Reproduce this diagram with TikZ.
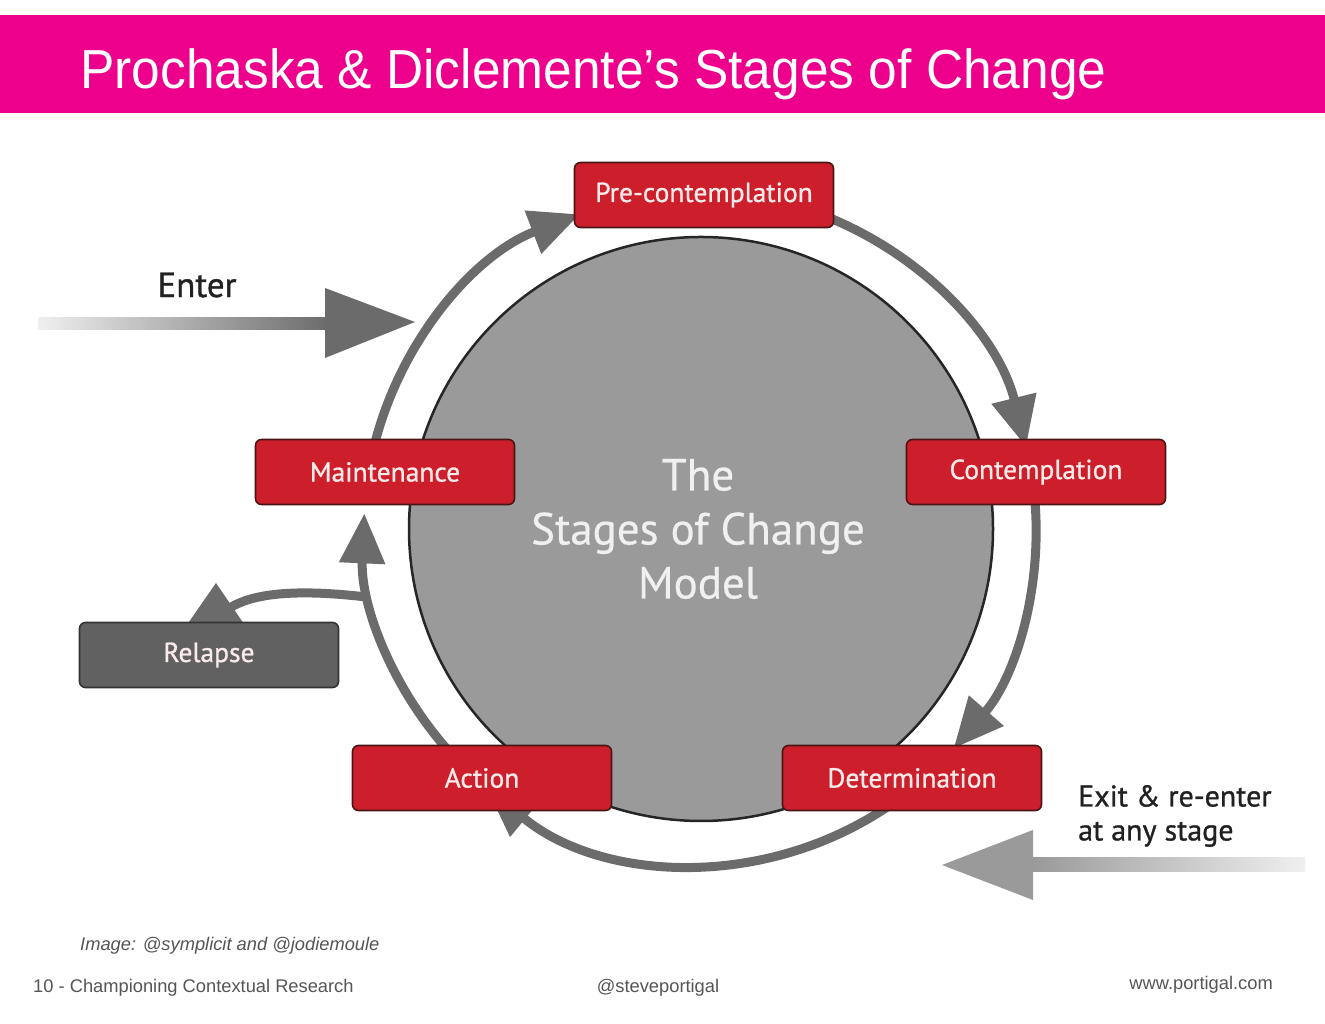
\documentclass[tikz,border=0pt]{standalone}
\usepackage{fontspec}
\setmainfont{Liberation Sans}
\newfontfamily\boxfont[FakeBold=0.9]{PT Sans}
\newfontfamily\modelfont[FakeBold=0.5]{PT Sans}
\usetikzlibrary{arrows.meta,calc}
\definecolor{pinkband}{HTML}{EC008C}
\definecolor{boxred}{HTML}{CD1F2B}
\definecolor{boxedge}{HTML}{4A1515}
\definecolor{boxtext}{HTML}{FBEAEA}
\definecolor{relgray}{HTML}{616161}
\definecolor{ringgray}{HTML}{6B6B6B}
\definecolor{exitgray}{HTML}{9A9A9A}
\definecolor{circgray}{HTML}{9A9A9A}
\definecolor{foot}{HTML}{555555}
\tikzset{
  stagebox/.style={rectangle, rounded corners=6pt, fill=boxred, draw=boxedge, line width=1.6pt,
    minimum width=259pt, minimum height=65pt, text=boxtext, inner sep=0pt,
    font=\boxfont\fontsize{27.5}{32}\selectfont},
  relbox/.style={stagebox, fill=relgray, draw=black!80},
  ring/.style={draw=ringgray, line width=9pt, -{Triangle[width=44pt,length=50pt]}},
  foottext/.style={text=foot, inner sep=0pt, font=\fontsize{18.3}{21}\selectfont},
}
\begin{document}
\begin{tikzpicture}[x=1pt,y=1pt]
\useasboundingbox (0,0) rectangle (1325,1024);
\fill[white] (0,0) rectangle (1325,1024);
% title band
\fill[pinkband] (0,911) rectangle (1325,1009);
\node[anchor=base west, text=white, inner sep=0pt, font=\fontsize{55}{60}\selectfont] (title) at (80,935)
  {\scalebox{0.936}[1]{Prochaska \& Diclemente’s Stages of Change}};
% central circle
\node[circle, minimum size=584pt, inner sep=0pt, fill=circgray, draw=black!85, line width=2.5pt] (model) at (701,495) {};
\node[align=center, text=white!94!black, font=\modelfont\fontsize{45}{54}\selectfont] (modeltxt) at (698,495)
  {The\\Stages of Change\\Model};
% ring arcs
\coordinate (rc) at (700,496);
\coordinate (r1s) at ($(rc)+(170:336)$);
\coordinate (r2s) at ($(rc)+(75:336)$);
\coordinate (r3s) at ($(rc)+(8:336)$);
\coordinate (r4s) at ($(rc)+(-55:336)$);
\coordinate (r5s) at ($(rc)+(225:336)$);
\draw[ring] (r1s) arc[start angle=170, end angle=111, radius=336];
\draw[ring] (r2s) arc[start angle=75, end angle=14, radius=336];
\draw[ring] (r3s) arc[start angle=8, end angle=-41, radius=336];
\draw[ring] (r4s) arc[start angle=-55, end angle=-129.5, radius=336];
\draw[ring] (r5s) arc[start angle=225, end angle=177.5, radius=336];
% relapse branch
\coordinate (rl0) at (366,427);
\coordinate (rlm) at (222,410);
\coordinate (rlt) at (216,441);
\draw[draw=ringgray, line width=9pt] (rl0) .. controls (290,436) and (243,430) .. (rlm);
\fill[ringgray] (rlt) -- (182,392) -- (246,397) -- cycle;
% stage boxes
\node[stagebox] (pre) at (704,829) {Pre-contemplation};
\node[stagebox] (cont) at (1036,552) {Contemplation};
\node[stagebox] (maint) at (385,552) {Maintenance};
\node[relbox] (relapse) at (209,369) {Relapse};
\node[stagebox] (action) at (482,246) {Action};
\node[stagebox] (determ) at (912,246) {Determination};
% enter arrow
\coordinate (enterA) at (38,700);
\coordinate (enterB) at (330,700);
\coordinate (enterTip) at (415,702);
\shade[left color=gray!12, right color=ringgray] ($(enterA)+(0,-6)$) rectangle ($(enterB)+(0,6)$);
\fill[ringgray] (325,736) -- (enterTip) -- (325,666) -- cycle;
\node[text=black!87, font=\boxfont\fontsize{35}{38}\selectfont] (enter) at (197,739) {Enter};
% exit arrow
\coordinate (exitA) at (1305,159);
\coordinate (exitB) at (1033,159);
\coordinate (exitTip) at (942,159);
\shade[left color=exitgray, right color=gray!12] ($(exitB)+(0,-7)$) rectangle ($(exitA)+(0,7)$);
\fill[exitgray] (1033,194) -- (exitTip) -- (1033,124) -- cycle;
\node[anchor=west, align=left, text=black!87, inner sep=0pt, font=\boxfont\fontsize{30}{34}\selectfont] (exit) at (1078,208)
  {Exit \& re-enter\\at any stage};
% footer
\node[foottext, anchor=base west, font=\itshape\fontsize{18.3}{21}\selectfont] (credit) at (80,73) {Image: @symplicit and @jodiemoule};
\node[foottext, anchor=base west] (footl) at (33,31) {10 - Championing Contextual Research};
\node[foottext, anchor=base] (footc) at (658,31) {@steveportigal};
\node[foottext, anchor=base east] (footr) at (1273,34) {www.portigal.com};
\end{tikzpicture}
\end{document}
